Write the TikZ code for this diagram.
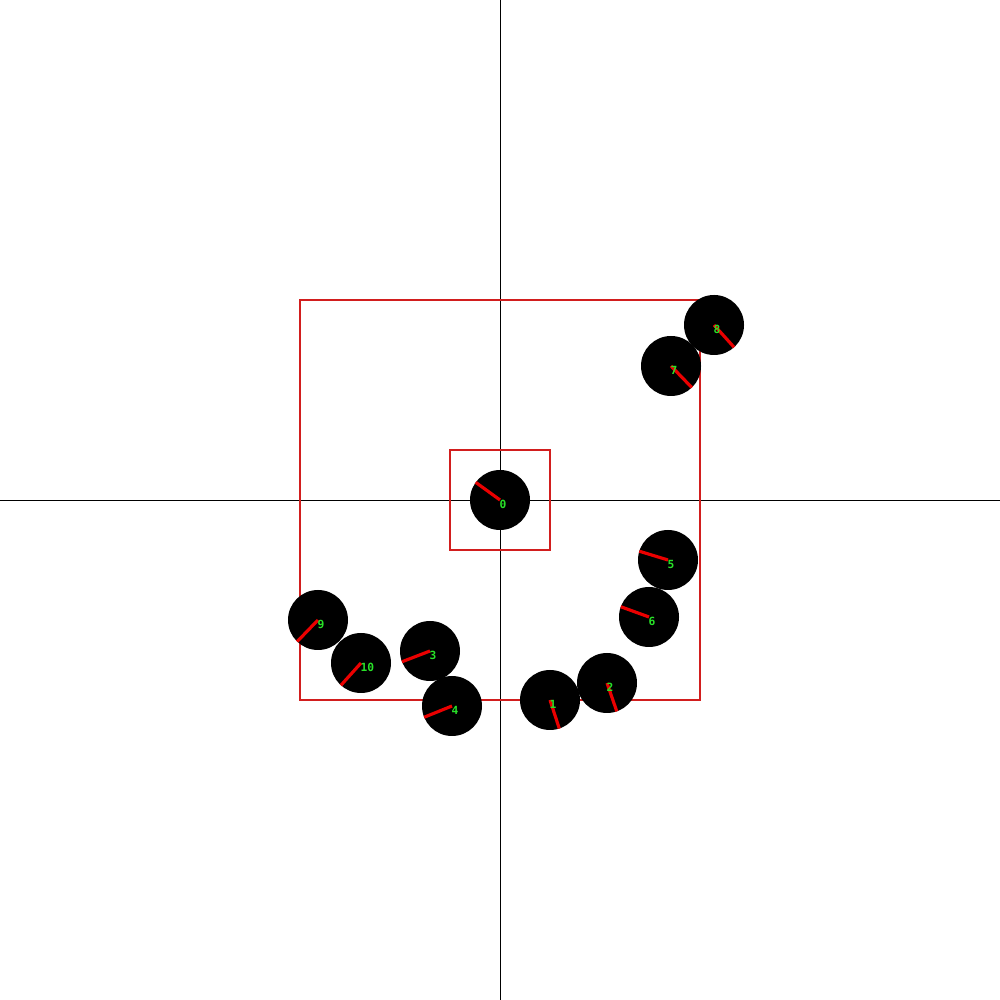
\documentclass[tikz,border=0pt]{standalone}
\usepackage{fontspec}
\newfontfamily\labelfont{DejaVu Sans Mono}
\usetikzlibrary{positioning, calc}
\definecolor{boxred}{RGB}{210,30,30}
\definecolor{headred}{RGB}{235,0,0}
\definecolor{idgreen}{RGB}{40,225,40}

\begin{document}
\begin{tikzpicture}[
    axis/.style={black, line width=0.25pt},
    region/.style={draw=boxred, line width=0.3pt},
    robot/.style={circle, fill=black, minimum size=0.6cm, inner sep=0pt},
    heading/.style={headred, line width=0.9pt},
    idlbl/.style={font=\labelfont\bfseries\fontsize{3.2}{3.5}\selectfont, text=idgreen, inner sep=0pt, anchor=base west},
]
\useasboundingbox (-5,-5) rectangle (5,5);

% axes
\coordinate (xl) at (-5,0);
\coordinate (xr) at (5,0);
\coordinate (yb) at (0,-5);
\coordinate (yt) at (0,5);
\draw[axis] (xl) -- (xr);
\draw[axis] (yb) -- (yt);

% regions
\node[region, minimum size=4cm, inner sep=0pt] (outer) at (0,0) {};
\node[region, minimum size=1cm, inner sep=0pt] (inner) at (0,0) {};

% robots: id / x / y / heading angle
\foreach \n/\x/\y/\a in {0/0/0/144, 1/0.50/-2.00/-72, 2/1.07/-1.83/-71,
    3/-0.70/-1.51/201, 4/-0.48/-2.06/202, 5/1.68/-0.60/163, 6/1.49/-1.17/160,
    7/1.71/1.34/-46, 8/2.14/1.75/-48, 9/-1.82/-1.20/226, 10/-1.39/-1.63/228} {
    \node[robot] (r\n) at (\x,\y) {};
    \coordinate (h\n) at ($(r\n.center)+(\a:0.3)$);
    \draw[heading] (r\n.center) -- (h\n);
    \node[idlbl] (id\n) at ([shift={(-0.01,-0.09)}]r\n.center) {\n};
}

\end{tikzpicture}
\end{document}
